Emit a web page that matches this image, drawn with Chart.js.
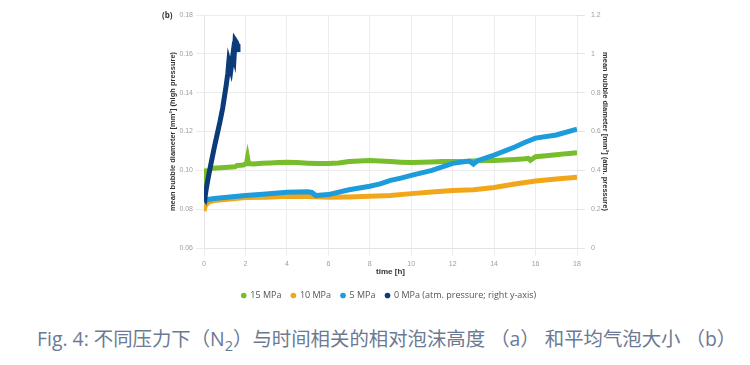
<!DOCTYPE html>
<html>
<head>
<meta charset="utf-8">
<script src="https://cdn.jsdelivr.net/npm/chart.js@4"></script>
<style>
  body { margin: 0; background: #fff; }
  #wrap { position: relative; width: 750px; height: 314px; }
  #caption {
    position: absolute; left: 37px; top: 323px; white-space: nowrap;
    font-family: "Open Sans", "Noto Sans CJK SC", sans-serif; font-size: 19.4px;
    color: #6b7a92;
  }
  #caption sub { font-size: 0.75em; vertical-align: -0.35em; }
</style>
</head>
<body>
<div id="wrap"><canvas id="chart" width="750" height="314"></canvas></div>
<div id="caption">Fig. 4: 不同压力下（N<sub>2</sub>）与时间相关的相对泡沫高度 （a） 和平均气泡大小 （b）</div>
<script>
// [time h, mean bubble diameter]
const mpa15 = [[0,0.101],[0.03,0.098],[0.06,0.092],[0.1,0.094],[0.2,0.099],[0.3,0.101],[0.6,0.1012],[1,0.1015],[1.5,0.1018],[1.6,0.1025],[1.9,0.1027],[2.05,0.1035],[2.1,0.1065],[2.15,0.1035],[2.4,0.1033],[2.8,0.1036],[3.2,0.1038],[3.6,0.104],[4,0.1042],[4.5,0.104],[5,0.1037],[5.5,0.1035],[6,0.1035],[6.5,0.1038],[7,0.1045],[7.5,0.1048],[8,0.105],[8.5,0.1048],[9,0.1045],[9.5,0.1042],[10,0.104],[10.5,0.1041],[11,0.1043],[11.5,0.1045],[12,0.1045],[12.5,0.1046],[13,0.1048],[13.5,0.105],[14,0.1051],[14.5,0.1053],[15,0.1056],[15.5,0.106],[15.65,0.1062],[15.75,0.1052],[16,0.107],[16.5,0.1075],[17,0.108],[17.5,0.1086],[18,0.109]];
const mpa10 = [[0,0.079],[0.05,0.0815],[0.2,0.0835],[0.5,0.0845],[1,0.085],[1.5,0.0855],[2,0.086],[3,0.0862],[4,0.0866],[5,0.0865],[6,0.0862],[7,0.0863],[8,0.0866],[9,0.087],[10,0.088],[11,0.0888],[12,0.0896],[13,0.09],[14,0.0912],[15,0.093],[16,0.0945],[17,0.0955],[18,0.0965]];
const mpa5 = [[0,0.0835],[0.2,0.085],[0.5,0.0855],[1,0.086],[2,0.087],[3,0.0878],[4,0.0887],[5,0.089],[5.2,0.0886],[5.4,0.087],[6,0.0875],[7,0.09],[8,0.0918],[8.5,0.093],[9,0.0948],[9.5,0.096],[10,0.0974],[11,0.1],[12,0.1036],[12.8,0.1048],[13,0.1032],[13.2,0.105],[14,0.1078],[15,0.112],[15.5,0.1145],[16,0.1166],[17,0.1182],[18,0.1212]];
// 0 MPa on the right axis
const mpa0 = [[0,0.27],[0.05,0.26],[0.1,0.3],[0.2,0.36],[0.3,0.415],[0.5,0.52],[0.77,0.65],[0.9,0.72],[1.06,0.83],[1.15,0.9],[1.2,0.96],[1.3,0.92],[1.4,1.0],[1.45,0.98],[1.5,1.07],[1.56,1.06],[1.6,1.05],[1.64,1.01]];

const seriesNames = ['15 MPa', '10 MPa', '5 MPa', '0 MPa (atm. pressure; right y-axis)'];
const seriesColors = ['#78bd2c', '#f2a71b', '#1d9cdb', '#0b3b78'];
const xTicks = [0, 2, 4, 6, 8, 10, 12, 14, 16, 18];

const toPts = (arr) => arr.map(p => ({x: p[0], y: p[1]}));
const allData = [mpa15, mpa10, mpa5, mpa0];

const panelLabel = {
    id: 'panelLabel',
    afterDraw(chart) {
        const ctx = chart.ctx;
        ctx.save();
        ctx.font = 'bold 8px "Open Sans", sans-serif';
        ctx.fillStyle = '#333';
        ctx.textBaseline = 'middle';
        ctx.fillText('(b)', 162, 16);
        ctx.restore();
    }
};

new Chart('chart', {
    type: 'line',
    data: {
        datasets: allData.map((d, i) => ({
            label: seriesNames[i],
            data: toPts(d),
            borderColor: seriesColors[i],
            backgroundColor: seriesColors[i],
            borderWidth: 5,
            pointRadius: 0,
            tension: 0,
            yAxisID: i === 3 ? 'y1' : 'y',
            order: 3 - i
        }))
    },
    options: {
        responsive: false,
        animation: false,
        devicePixelRatio: 1,
        layout: { padding: { left: 164, right: 136, top: 15, bottom: 4 } },
        plugins: {
            tooltip: { enabled: false },
            legend: {
                position: 'bottom',
                labels: {
                    usePointStyle: true,
                    pointStyle: 'circle',
                    boxWidth: 4,
                    boxHeight: 4,
                    padding: 10,
                    color: '#555',
                    font: { size: 9, family: '"Open Sans", sans-serif' },
                    generateLabels: (chart) => Chart.defaults.plugins.legend.labels.generateLabels(chart)
                        .map(l => Object.assign(l, { lineWidth: 0 })),
                    sort: (a, b) => a.datasetIndex - b.datasetIndex
                }
            }
        },
        scales: {
            x: {
                type: 'linear', min: 0, max: 18,
                afterBuildTicks: (s) => { s.ticks = xTicks.map(v => ({value: v})); },
                grid: { color: '#ececec' },
                border: { color: '#e4e4e4' },
                ticks: { color: '#a0a0a0', font: { size: 7 }, padding: 4, maxRotation: 0 },
                title: { display: true, text: 'time [h]', color: '#333', font: { size: 8, weight: 'bold' }, padding: { top: 2 } },
                afterFit: (s) => { s.height = 33; }
            },
            y: {
                position: 'left', min: 0.06, max: 0.18,
                grid: { color: '#ececec' },
                border: { color: '#e4e4e4' },
                ticks: { stepSize: 0.02, color: '#a0a0a0', font: { size: 7 }, callback: v => v.toFixed(2) },
                title: { display: true, text: 'mean bubble diameter [mm²] (high pressure)', color: '#333', font: { size: 7.5, weight: 'bold' } },
                afterFit: (s) => { s.width = 40; }
            },
            y1: {
                position: 'right', min: 0, max: 1.2,
                grid: { drawOnChartArea: false },
                border: { display: false },
                ticks: { stepSize: 0.2, color: '#a0a0a0', font: { size: 7 }, padding: 6, callback: v => +v.toFixed(1) },
                title: { display: true, text: 'mean bubble diameter [mm²] (atm. pressure)', color: '#333', font: { size: 7.5, weight: 'bold' } },
                afterFit: (s) => { s.width = 37; }
            }
        }
    },
    plugins: [panelLabel]
});
</script>
</body>
</html>
